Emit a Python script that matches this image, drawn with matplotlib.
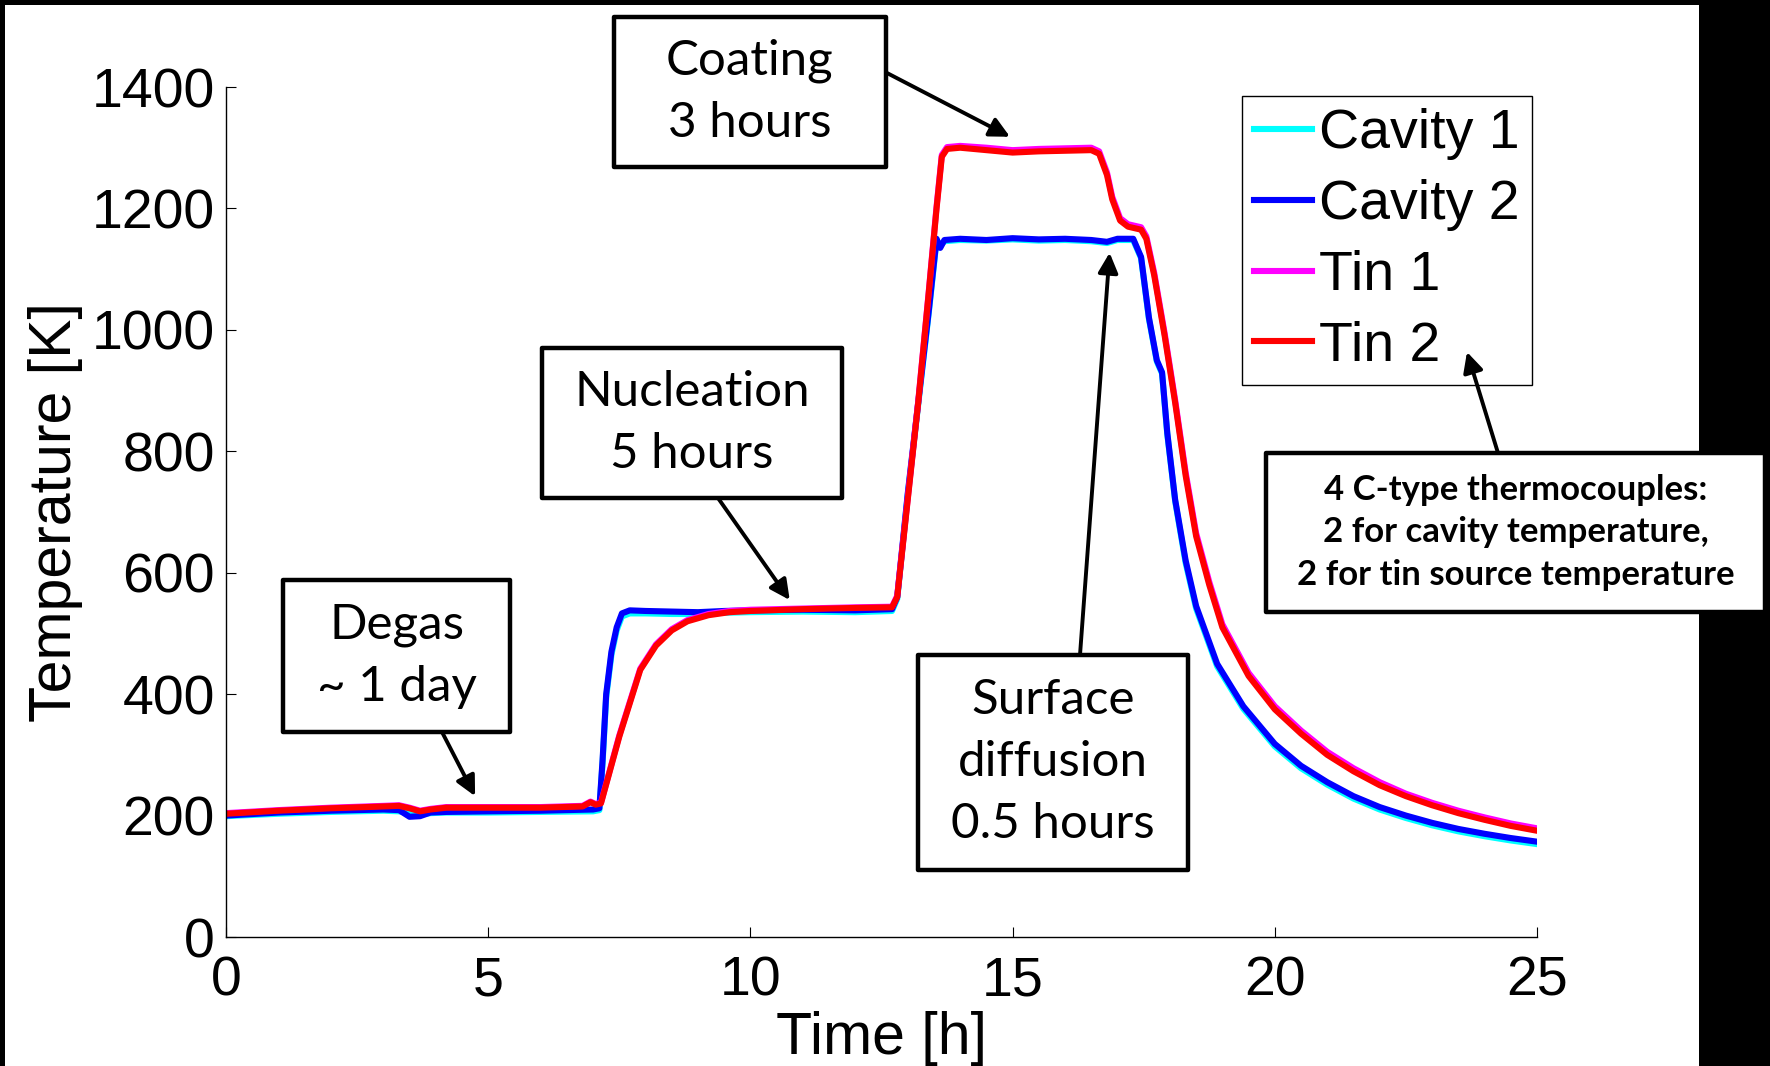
#!/usr/bin/env python
# -*- coding: utf-8 -*-

"""
Temperature history of the Nb3Sn coating run, four C-type thermocouples.
"""

# Third party modules.
import matplotlib
matplotlib.use("Agg")
import matplotlib.pyplot as plt
from matplotlib.patches import Rectangle

# Globals and constants variables.
FIG_W_PX = 1770
FIG_H_PX = 1066
DPI = 100

SERIES_NAMES = ["Cavity 1", "Cavity 2", "Tin 1", "Tin 2"]
SERIES_COLORS = ["#00ffff", "#0000ff", "#ff00ff", "#ff0000"]

cavity_time = [0, 1, 2, 3, 3.3, 3.5, 3.7, 3.9, 4.2, 5, 6, 7.0, 7.12, 7.18,
               7.25, 7.35, 7.45, 7.55, 7.7, 8.0, 8.5, 9.0, 9.5, 10, 11, 12,
               12.7, 12.8, 13.0, 13.2, 13.4, 13.5, 13.55, 13.62, 13.7, 14.0,
               14.5, 15.0, 15.5, 16.0, 16.5, 16.8, 17.0, 17.3, 17.45, 17.6,
               17.75, 17.85, 17.95, 18.1, 18.3, 18.5, 18.9, 19.4, 20.0, 20.5,
               21.0, 21.5, 22.0, 22.5, 23.0, 23.5, 24.0, 24.5, 25.0]

cavity1_temp = [199, 203, 206, 208, 207, 203, 202, 204, 205, 205, 206, 207,
                209, 285, 395, 465, 505, 528, 533, 533, 532, 532, 534, 535,
                536, 535, 537, 557, 727, 877, 1027, 1107, 1147, 1138, 1146,
                1148, 1147, 1149, 1147, 1148, 1146, 1143, 1148, 1148, 1118,
                1018, 948, 928, 828, 718, 616, 541, 446, 376, 314, 278, 251,
                228, 210, 196, 184, 174, 166, 159, 153]

cavity2_temp = [200, 205, 208, 210, 209, 198, 199, 205, 206, 207, 208, 210,
                212, 290, 400, 470, 510, 533, 538, 537, 536, 535, 537, 538,
                539, 538, 540, 560, 730, 880, 1030, 1110, 1150, 1135, 1148,
                1150, 1148, 1151, 1149, 1150, 1148, 1145, 1150, 1150, 1120,
                1020, 950, 930, 830, 720, 620, 545, 450, 380, 318, 282, 255,
                232, 214, 200, 188, 178, 170, 163, 157]

tin_time = [0, 1, 2, 3, 3.3, 3.5, 3.7, 3.9, 4.2, 5, 6, 6.8, 6.95, 7.05, 7.15,
            7.5, 7.9, 8.2, 8.5, 8.8, 9.2, 9.6, 10, 11, 12, 12.7, 12.8, 13.0,
            13.2, 13.4, 13.55, 13.65, 13.75, 14.0, 14.5, 15.0, 15.5, 16.0,
            16.5, 16.65, 16.8, 16.9, 17.05, 17.2, 17.45, 17.55, 17.7, 17.9,
            18.1, 18.3, 18.5, 18.75, 19.0, 19.5, 20.0, 20.5, 21.0, 21.5, 22.0,
            22.5, 23.0, 23.5, 24.0, 24.5, 25.0]

tin1_temp = [204, 209, 213, 216, 217, 213, 208, 211, 214, 214, 214, 216, 223,
             219, 221, 332, 442, 482, 507, 522, 532, 537, 539, 541, 543, 544,
             562, 722, 882, 1062, 1203, 1288, 1301, 1303, 1300, 1296, 1298,
             1299, 1300, 1294, 1259, 1219, 1184, 1174, 1169, 1154, 1094, 994,
             884, 765, 665, 585, 515, 435, 380, 340, 305, 278, 255, 236, 221,
             208, 197, 187, 179]

tin2_temp = [203, 208, 212, 215, 216, 212, 207, 210, 213, 213, 213, 215, 222,
             218, 220, 330, 440, 480, 505, 520, 530, 535, 537, 540, 542, 543,
             560, 720, 880, 1060, 1200, 1285, 1298, 1300, 1296, 1292, 1294,
             1295, 1296, 1290, 1255, 1215, 1180, 1170, 1165, 1150, 1090, 990,
             880, 760, 660, 580, 510, 430, 375, 335, 300, 273, 250, 232, 217,
             204, 193, 183, 175]

x_ticks = [0, 5, 10, 15, 20, 25]
y_ticks = [0, 200, 400, 600, 800, 1000, 1200, 1400]

# Annotation boxes: text, box (left, top, right, bottom) in figure pixels,
# arrow start in figure pixels, arrow tip in data coordinates.
ANNOTATIONS = [
    ("Coating\n3 hours", (614, 17, 886, 167), (887, 73), (14.95, 1318)),
    ("Nucleation\n5 hours", (542, 348, 842, 498), (718, 498), (10.75, 555)),
    ("Degas\n~ 1 day", (283, 580, 510, 732), (442, 732), (4.75, 232)),
    ("Surface\ndiffusion\n0.5 hours", (918, 655, 1188, 870), (1080, 655),
     (16.85, 1127)),
]
NOTE_TEXT = ("4 C-type thermocouples:\n2 for cavity temperature,\n"
             "2 for tin source temperature")
NOTE_BOX = (1266, 453, 1765, 612)
NOTE_START = (1498, 453)
NOTE_TIP = (1467, 352)


def fig_xy(px, py):
    return px / FIG_W_PX, 1.0 - py / FIG_H_PX


def add_box(fig, text, box, fontsize, weight="normal", linespacing=1.1):
    left, top, right, bottom = box
    x0, y1 = fig_xy(left, top)
    x1, y0 = fig_xy(right, bottom)
    rect = Rectangle((x0, y0), x1 - x0, y1 - y0, transform=fig.transFigure,
                     facecolor="white", edgecolor="black", linewidth=3.2,
                     joinstyle="round", zorder=5)
    fig.add_artist(rect)
    fig.text((x0 + x1) / 2, (y0 + y1) / 2, text, ha="center", va="center",
             fontsize=fontsize, family="Lato", weight=weight,
             linespacing=linespacing, zorder=6)


def plot_temperatures():
    plt.rcParams["font.family"] = ["Liberation Sans", "DejaVu Sans"]

    fig = plt.figure(figsize=(FIG_W_PX / DPI, FIG_H_PX / DPI), dpi=DPI)
    fig.patch.set_facecolor("black")

    # White panel on the black background.
    x0, y1 = fig_xy(5, 5)
    x1, _ = fig_xy(1699, 0)
    fig.add_artist(Rectangle((x0, 0), x1 - x0, y1, transform=fig.transFigure,
                             facecolor="white", edgecolor="none", zorder=-10))

    left, top = fig_xy(226, 87)
    right, bottom = fig_xy(1537, 937)
    ax = fig.add_axes([left, bottom, right - left, top - bottom])
    ax.set_facecolor("none")

    lw = 4.4
    ax.plot(cavity_time, cavity1_temp, color=SERIES_COLORS[0], lw=lw,
            label=SERIES_NAMES[0])
    ax.plot(cavity_time, cavity2_temp, color=SERIES_COLORS[1], lw=lw,
            label=SERIES_NAMES[1])
    ax.plot(tin_time, tin1_temp, color=SERIES_COLORS[2], lw=lw,
            label=SERIES_NAMES[2])
    ax.plot(tin_time, tin2_temp, color=SERIES_COLORS[3], lw=lw,
            label=SERIES_NAMES[3])

    ax.set_xlim(0, 25)
    ax.set_ylim(0, 1400)
    ax.set_xticks(x_ticks)
    ax.set_yticks(y_ticks)
    ax.spines["top"].set_visible(False)
    ax.spines["right"].set_visible(False)
    for side in ("left", "bottom"):
        ax.spines[side].set_linewidth(1.0)
    ax.tick_params(direction="in", length=7, width=0.8, labelsize=40)
    ax.tick_params(axis="x", pad=13)
    ax.tick_params(axis="y", pad=8)

    ax.set_xlabel("Time [h]", fontsize=42.5, labelpad=3)
    ax.set_ylabel("Temperature [K]", fontsize=42.5, labelpad=6)

    lx, ly = fig_xy(1532, 96)
    leg = ax.legend(loc="upper right", bbox_to_anchor=(lx, ly),
                    bbox_transform=fig.transFigure, borderaxespad=0,
                    fontsize=40, fancybox=False, framealpha=1,
                    edgecolor="black", handlelength=1.05, handletextpad=0.12,
                    labelspacing=0.34, borderpad=0.22)
    leg.get_frame().set_linewidth(1.0)
    for line in leg.get_lines():
        line.set_linewidth(lw)

    for text, box, start, tip in ANNOTATIONS:
        add_box(fig, text, box, fontsize=35.5, linespacing=1.5)
        ax.annotate("", xy=tip, xycoords="data",
                    xytext=fig_xy(*start), textcoords="figure fraction",
                    arrowprops=dict(arrowstyle="-|>", color="black", lw=2.8,
                                    mutation_scale=30, shrinkA=0, shrinkB=0),
                    annotation_clip=False, zorder=7)

    add_box(fig, NOTE_TEXT, NOTE_BOX, fontsize=25, weight="bold",
            linespacing=1.4)
    ax.annotate("", xy=fig_xy(*NOTE_TIP), xycoords="figure fraction",
                xytext=fig_xy(*NOTE_START), textcoords="figure fraction",
                arrowprops=dict(arrowstyle="-|>", color="black", lw=2.8,
                                mutation_scale=30, shrinkA=0, shrinkB=0),
                annotation_clip=False, zorder=7)

    fig.savefig("out.png", dpi=DPI, facecolor=fig.get_facecolor())


if __name__ == "__main__":
    plot_temperatures()
